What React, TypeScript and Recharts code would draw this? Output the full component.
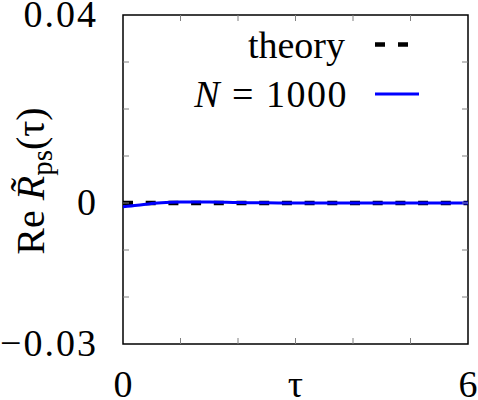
import { LineChart, Line, XAxis, YAxis, Legend, ReferenceArea } from "recharts";

const tau = [0, 0.25, 0.5, 0.75, 1, 1.25, 1.5, 2, 2.5, 3, 3.5, 4, 4.5, 5, 5.5, 6];
const theory = [0, 0, 0, 0, 0, 0, 0, 0, 0, 0, 0, 0, 0, 0, 0, 0];
const n1000 = [-0.0008, -0.0005, -0.0001, 0.0001, 0.0002, 0.0002, 0.0002, 0.0001, 0.00005, 0, 0, 0, 0, 0, 0, 0];

const xTicks = [0, 1, 2, 3, 4, 5, 6];
const xLabeled = [0, 6];
const yTicks = [-0.03, -0.02, -0.01, 0, 0.01, 0.02, 0.03, 0.04];
const yLabels: Record<string, string> = { "-0.03": "\u22120.03", "0": "0", "0.04": "0.04" };

const data = tau.map((t, i) => ({ tau: t, theory: theory[i], n1000: n1000[i] }));

const FONT = "Liberation Serif";
const txt = { fontFamily: FONT, fontSize: 38 };
const W = 478;
const H = 400;
const M = { top: 15, right: 10, bottom: 0, left: 0 };
const Y_W = 123;
const X_H = 56;
const P_LEFT = M.left + Y_W;
const P_RIGHT = W - M.right;
const P_TOP = M.top;
const P_BOTTOM = H - M.bottom - X_H;
const TICK = 6;
const TICK_COLOR = "#808080";

const XTick = (props: any) => {
  const { x, payload } = props;
  const v = payload.value;
  const inner = v !== 0 && v !== 6;
  return (
    <g>
      {inner && <line x1={x} x2={x} y1={P_BOTTOM} y2={P_BOTTOM - TICK} stroke={TICK_COLOR} strokeWidth={1} />}
      {inner && <line x1={x} x2={x} y1={P_TOP} y2={P_TOP + TICK} stroke={TICK_COLOR} strokeWidth={1} />}
      {xLabeled.includes(v) && (
        <text x={x} y={P_BOTTOM + 53} textAnchor="middle" style={txt} fill="#000">
          {v}
        </text>
      )}
    </g>
  );
};

const YTick = (props: any) => {
  const { y, payload } = props;
  const v = payload.value;
  const inner = v !== -0.03 && v !== 0.04;
  const label = yLabels[String(v)];
  return (
    <g>
      {inner && <line x1={P_LEFT} x2={P_LEFT + TICK} y1={y} y2={y} stroke={TICK_COLOR} strokeWidth={1} />}
      {inner && <line x1={P_RIGHT} x2={P_RIGHT - TICK} y1={y} y2={y} stroke={TICK_COLOR} strokeWidth={1} />}
      {label && (
        <text x={P_LEFT - 25} y={y + 12} textAnchor="end" style={{ ...txt, letterSpacing: 2 }} fill="#000">
          {label}
        </text>
      )}
    </g>
  );
};

const YLabel = () => {
  const cx = 44;
  const cy = 181;
  return (
    <text
      x={cx}
      y={cy}
      transform={`rotate(-90, ${cx}, ${cy})`}
      textAnchor="middle"
      style={{ fontFamily: FONT, fontSize: 40 }}
      fill="#000"
    >
      <tspan>Re </tspan>
      <tspan fontStyle="italic">R{"\u0303"}</tspan>
      <tspan style={{ fontSize: 29 }} dy={8}>ps</tspan>
      <tspan dy={-8}>(τ)</tspan>
    </text>
  );
};

const XLabel = (props: any) => {
  const vb = props.viewBox;
  return (
    <text x={vb.x + vb.width / 2} y={P_BOTTOM + 53} textAnchor="middle" style={txt} fill="#000">
      τ
    </text>
  );
};

const LegendBox = () => (
  <svg width={W} height={120} style={{ display: "block" }}>
    <text x={345} y={58} textAnchor="end" style={txt} fill="#000">
      theory
    </text>
    <line x1={375} x2={408} y1={44.5} y2={44.5} stroke="#000" strokeWidth={4.5} strokeDasharray="10 13" />
    <text x={348} y={107} textAnchor="end" style={{ ...txt, letterSpacing: 1.5 }} fill="#000">
      <tspan fontStyle="italic">N</tspan> = 1000
    </text>
    <line x1={375} x2={419} y1={94} y2={94} stroke="#0000ff" strokeWidth={3} />
  </svg>
);

export default function App() {
  return (
    <div style={{ position: "absolute", left: 0, top: 0, width: W, height: H, background: "#fff", fontFamily: FONT }}>
      <LineChart width={W} height={H} data={data} margin={M}>
        <XAxis
          dataKey="tau"
          type="number"
          domain={[0, 6]}
          ticks={xTicks}
          height={X_H}
          axisLine={false}
          tickLine={false}
          tickSize={0}
          tickMargin={0}
          tick={<XTick />}
          label={<XLabel />}
          allowDataOverflow
        />
        <YAxis
          type="number"
          domain={[-0.03, 0.04]}
          ticks={yTicks}
          width={Y_W}
          axisLine={false}
          tickLine={false}
          tickSize={0}
          tickMargin={0}
          tick={<YTick />}
          label={<YLabel />}
          allowDataOverflow
        />
        <ReferenceArea x1={0} x2={6} y1={-0.03} y2={0.04} fill="none" stroke="#000" strokeWidth={1.5} fillOpacity={0} />
        <Legend
          layout="horizontal"
          verticalAlign="middle"
          content={<LegendBox />}
          wrapperStyle={{ top: 0, left: 0, width: W, height: 120 }}
        />
        <Line
          type="monotone"
          dataKey="theory"
          stroke="#000"
          strokeWidth={4.5}
          strokeDasharray="10 12.7"
          dot={false}
          isAnimationActive={false}
        />
        <Line
          type="monotone"
          dataKey="n1000"
          stroke="#0000ff"
          strokeWidth={3}
          dot={false}
          isAnimationActive={false}
        />
      </LineChart>
    </div>
  );
}
